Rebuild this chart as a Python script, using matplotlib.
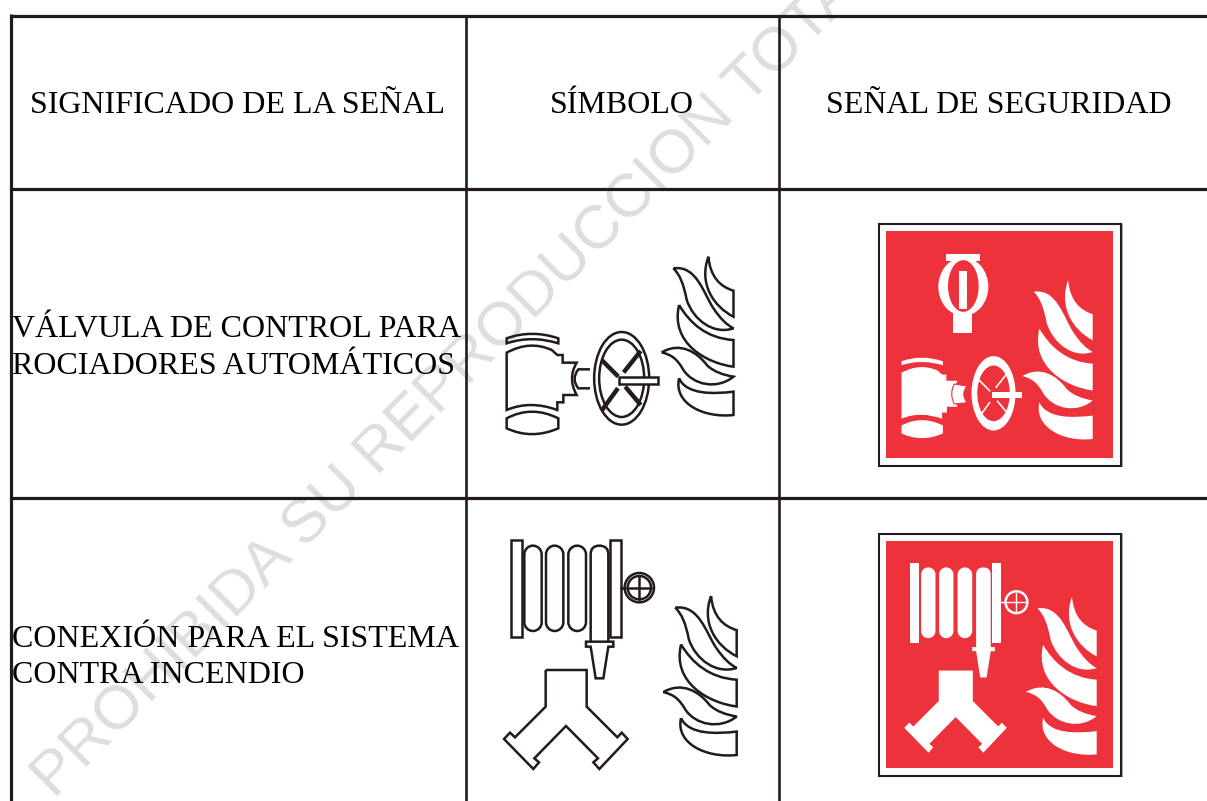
"""Tabla de señales de seguridad contra incendio, con marca de agua."""
import matplotlib

matplotlib.use("Agg")
import matplotlib.pyplot as plt  # noqa: E402
from matplotlib.patches import Ellipse, PathPatch, Rectangle  # noqa: E402
from matplotlib.path import Path  # noqa: E402
from matplotlib.transforms import Affine2D  # noqa: E402

HEADERS = ["SIGNIFICADO DE LA SEÑAL", "SÍMBOLO", "SEÑAL DE SEGURIDAD"]
ROW_1 = ["VÁLVULA DE CONTROL PARA", "ROCIADORES AUTOMÁTICOS"]
ROW_2 = ["CONEXIÓN PARA EL SISTEMA", "CONTRA INCENDIO"]
WATERMARK = "PROHIBIDA SU REPRODUCCION TOTAL"

DARK = "#231a1f"
RED = "#ee323b"
GREY = "#dedede"
SERIF = "Liberation Serif"
LW = 1.8

M, L, C, Z = Path.MOVETO, Path.LINETO, Path.CURVE3, Path.CLOSEPOLY
c4 = Path.CURVE4

fig = plt.figure(figsize=(12.07, 8.01), dpi=100)
ax = fig.add_axes([0, 0, 1, 1])
ax.set_xlim(0, 1207)
ax.set_ylim(801, 0)
ax.axis("off")


def crop_tf(ox, oy):
    """Coordinates read at 3x from a crop starting at (ox, oy)."""
    return Affine2D().scale(1 / 3).translate(ox, oy) + ax.transData


def remap(x0, y0, sx, sy, nx, ny):
    return Affine2D().translate(-x0, -y0).scale(sx, sy).translate(nx, ny)


def shape(verts, codes=None, tf=None, fill="none", edge=DARK, lw=LW, z=4):
    p = Path(verts, codes) if codes else Path(verts + [verts[0]])
    ax.add_patch(PathPatch(p, transform=tf, fc=fill, ec=edge, lw=lw, zorder=z,
                           joinstyle="miter"))


def pill(x0, x1, y0, y1):
    r = (x1 - x0) / 2
    k = r * 0.55
    verts = [(x0, y0 + r), (x0, y0 + r - k), (x0 + r - k, y0), (x0 + r, y0),
             (x0 + r + k, y0), (x1, y0 + r - k), (x1, y0 + r),
             (x1, y1 - r), (x1, y1 - r + k), (x0 + r + k, y1), (x0 + r, y1),
             (x0 + r - k, y1), (x0, y1 - r + k), (x0, y1 - r), (x0, y0 + r)]
    codes = [M, c4, c4, c4, c4, c4, c4, L, c4, c4, c4, c4, c4, c4, L]
    return verts, codes


FLAME_TONGUES = [
    ([(685, 50), (690, 110), (720, 140), (760, 152), (760, 230),
      (700, 200), (655, 130), (685, 50)],
     [M, c4, c4, c4, L, c4, c4, c4]),
    ([(580, 85), (650, 75), (670, 160), (700, 205), (720, 235), (740, 255), (760, 265),
      (700, 285), (640, 240), (620, 180), (610, 130), (600, 105), (580, 85)],
     [M, c4, c4, c4, c4, c4, c4, c4, c4, c4, c4, c4, c4]),
    ([(597, 195), (630, 250), (680, 295), (760, 300), (760, 380),
      (680, 370), (570, 310), (597, 195)],
     [M, c4, c4, c4, L, c4, c4, c4]),
    ([(545, 337), (600, 305), (650, 335), (680, 375), (700, 395), (730, 405), (760, 410),
      (710, 450), (640, 435), (610, 390), (590, 355), (575, 345), (545, 337)],
     [M, c4, c4, c4, c4, c4, c4, c4, c4, c4, c4, c4, c4]),
    ([(597, 415), (620, 465), (700, 462), (760, 455), (760, 525),
      (670, 535), (580, 490), (597, 415)],
     [M, c4, c4, c4, L, c4, c4, c4]),
]


def flame(left, top, right, bottom, filled):
    tf = (remap(545, 50, (right - left) / 215, (bottom - top) / 475, left, top)
          + ax.transData)
    for verts, codes in FLAME_TONGUES:
        if filled:
            shape(verts, codes, tf, fill="white", edge="none")
        else:
            shape(verts, codes, tf)


def valve(tf, filled):
    fc = "white" if filled else "none"
    ec = "none" if filled else DARK
    shape([(80, 295), (155, 268), (235, 295), (235, 310), (155, 285), (80, 310), (80, 295)],
          [M, C, C, L, C, C, Z], tf, fc, ec)
    shape([(80, 338), (150, 300), (215, 330), (232, 345), (248, 345), (248, 368), (272, 368),
           (290, 368), (262, 415), (290, 465), (250, 465), (250, 487), (232, 487),
           (232, 510), (150, 480), (80, 510), (80, 338)],
          [M, C, C, L, L, L, L, L, C, C, L, L, L, L, C, C, Z], tf, fc, ec)
    shape([(80, 535), (155, 495), (235, 535), (235, 565), (155, 600), (80, 565), (80, 535)],
          [M, C, C, L, C, C, Z], tf, fc, ec)
    if filled:
        shape([(278, 380), (326, 388), (300, 417), (326, 450), (278, 455), (258, 417),
               (278, 380)], [M, L, C, C, L, C, C], tf, "white", RED, 0.8)
    else:
        shape([(330, 388), (295, 388), (272, 417), (295, 445), (330, 445)],
              [M, L, C, C, L], tf)
    ax.add_patch(Ellipse((425, 415), 165, 278, transform=tf, fc=fc, ec=ec, lw=LW, zorder=4))
    ax.add_patch(Ellipse((425, 415), 122 if filled else 135, 208 if filled else 232,
                         transform=tf, fc=RED if filled else "none", ec=ec, lw=LW, zorder=4))
    spokes = [((370, 365), (410, 405)), ((478, 338), (435, 392)),
              ((370, 505), (410, 450)), ((478, 490), (440, 445))]
    for a, b in spokes:
        ax.plot([a[0], b[0]], [a[1], b[1]], transform=tf, zorder=4,
                color="white" if filled else DARK, lw=1.2 if filled else 3.2)
    verts, codes = [(418, 410), (533, 410), (533, 433), (418, 433), (418, 410)], [M, L, L, L, Z]
    shape(verts, codes, tf, "white", ec, z=5)


def hose(tf, filled):
    fc = "white" if filled else "none"
    ec = "none" if filled else DARK
    for x0, x1 in [(94, 125), (391, 422)]:
        ax.add_patch(Rectangle((x0, 30), x1 - x0, 290, transform=tf, fc=fc, ec=ec, lw=LW, zorder=4))
    for x0, x1 in [(133, 185), (198, 250), (265, 318)]:
        v, c = pill(x0, x1, 47, 303)
        shape(v, c, tf, fc, ec)
    shape([(332, 335), (332, 73), (332, 47), (358, 47), (385, 47), (385, 73), (385, 335)],
          [M, L, c4, c4, c4, L, L][:1] + [L, C, C, C, C, L], tf, fc, ec)
    shape([(318, 335), (400, 335), (400, 350), (385, 350), (370, 445), (347, 445), (332, 350),
           (318, 350), (318, 335)], [M, L, L, L, L, L, L, L, Z], tf,
          "white" if filled else "none", ec)
    ax.add_patch(Ellipse((478, 173), 88, 88, transform=tf, fc=fc, ec=ec, lw=LW, zorder=4))
    ax.add_patch(Ellipse((478, 173), 70, 70, transform=tf, fc=RED if filled else "none",
                         ec=ec, lw=LW, zorder=4))
    col = "white" if filled else DARK
    w = 1.0 if filled else 1.8
    ax.plot([422, 436], [173, 173], transform=tf, color=col, lw=w, zorder=4)
    ax.plot([443, 513], [173, 173], transform=tf, color=col, lw=w, zorder=4)
    ax.plot([478, 478], [138, 208], transform=tf, color=col, lw=w, zorder=4)
    shape([(197, 420), (320, 420), (320, 530), (412, 622), (425, 608), (443, 627), (358, 717),
           (340, 697), (354, 685), (258, 588), (163, 685), (177, 697), (160, 717), (72, 627),
           (90, 608), (105, 622), (197, 530)], None, tf, fc, ec)


def sign_frame(oy):
    ax.add_patch(Rectangle((878.5, oy + 8.5), 242.5, 242, fc="white", ec=DARK, lw=1.5, zorder=3))
    ax.plot([1122, 1122], [oy + 9, oy + 251], color="#a9a5a6", lw=0.8, zorder=3)
    ax.add_patch(Rectangle((886, oy + 16), 226.5, 226.5, fc=RED, ec="none", zorder=3))


# watermark goes under everything
ax.text(55, 800, WATERMARK, rotation=45, rotation_mode="anchor", ha="left", va="baseline",
        family="Liberation Sans", fontsize=44.5, color=GREY, zorder=1)

# table grid
for y in [15.5, 189, 498]:
    ax.plot([10, 1207], [y, y], color=DARK, lw=2.3, solid_capstyle="butt", zorder=2)
ax.plot([11, 11], [14, 801], color=DARK, lw=2.3, solid_capstyle="butt", zorder=2)
for x in [466, 779]:
    ax.plot([x, x], [15, 801], color=DARK, lw=1.9, solid_capstyle="butt", zorder=2)

# text
FS = 23.0
for label, cx in zip(HEADERS, [237.5, 622, 999]):
    ax.text(cx, 113, label, ha="center", va="baseline", family=SERIF, fontsize=FS,
            color="black", zorder=6)
for label, y in zip(ROW_1, [337, 374]):
    ax.text(12, y, label, ha="left", va="baseline", family=SERIF, fontsize=FS,
            color="black", zorder=6)
for label, y in zip(ROW_2, [647, 683]):
    ax.text(12, y, label, ha="left", va="baseline", family=SERIF, fontsize=FS,
            color="black", zorder=6)

# black symbols
valve(crop_tf(480, 240), False)
flame(661.7, 256.7, 733.5, 415, False)
hose(crop_tf(480, 530), False)
flame(663.3, 596, 736.7, 755, False)

# first sign
sign_frame(215)
sign1 = crop_tf(870, 215)
valve(remap(78, 278, 0.8, 0.803, 93, 425) + sign1, True)
shape([(228, 118), (330, 118), (330, 138), (228, 138)], None, sign1, "white", "none")
ax.add_patch(Ellipse((280, 215), 150, 175, transform=sign1, fc="white", ec="none", zorder=4))
ax.add_patch(Rectangle((250, 295), 57, 60, transform=sign1, fc="white", ec="none", zorder=4))
ax.add_patch(Ellipse((280, 213), 92, 155, transform=sign1, fc=RED, ec="none", zorder=4))
ax.add_patch(Rectangle((267, 168), 24, 115, transform=sign1, fc="white", ec="none", zorder=5))
flame(1022.3, 280, 1092.7, 439, True)

# second sign
sign_frame(525)
hose(remap(94, 30, 0.829, 0.83, 121, 113) + crop_tf(870, 525), True)
flame(1026, 596.7, 1096.7, 754.3, True)

fig.savefig("out.png", dpi=100)
plt.close(fig)
